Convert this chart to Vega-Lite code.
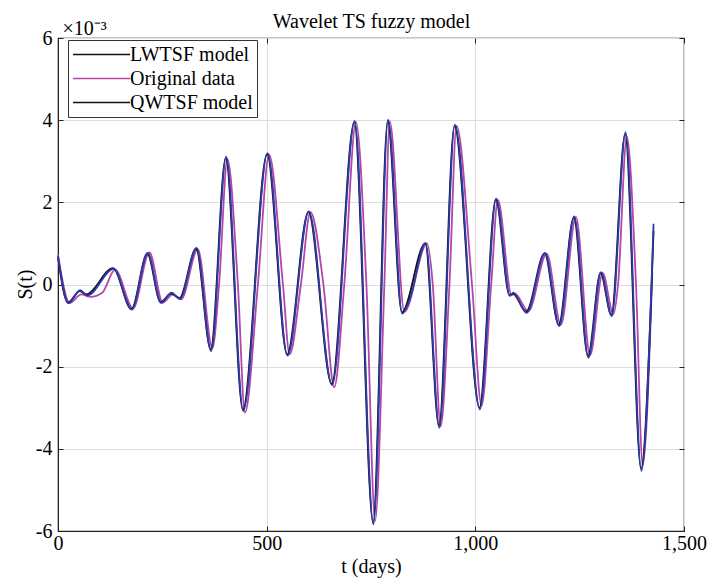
{
  "$schema": "https://vega.github.io/schema/vega-lite/v6.json",
  "width": 626,
  "height": 493,
  "autosize": {"type": "none"},
  "padding": {"left": 58, "top": 38, "right": 25, "bottom": 50},
  "background": "white",
  "data": {"values": [
    {"t": 0, "s": 0.72, "series": "Original data"},
    {"t": 28, "s": -0.45, "series": "Original data"},
    {"t": 56, "s": -0.24, "series": "Original data"},
    {"t": 78, "s": -0.3, "series": "Original data"},
    {"t": 106, "s": -0.2, "series": "Original data"},
    {"t": 137, "s": 0.36, "series": "Original data"},
    {"t": 180, "s": -0.58, "series": "Original data"},
    {"t": 219, "s": 0.78, "series": "Original data"},
    {"t": 251, "s": -0.44, "series": "Original data"},
    {"t": 275, "s": -0.24, "series": "Original data"},
    {"t": 295, "s": -0.36, "series": "Original data"},
    {"t": 335, "s": 0.86, "series": "Original data"},
    {"t": 370, "s": -1.55, "series": "Original data"},
    {"t": 386, "s": 0, "series": "Original data"},
    {"t": 406, "s": 3.05, "series": "Original data"},
    {"t": 431, "s": 0, "series": "Original data"},
    {"t": 448, "s": -3.12, "series": "Original data"},
    {"t": 479, "s": 0, "series": "Original data"},
    {"t": 506, "s": 3.16, "series": "Original data"},
    {"t": 539, "s": 0, "series": "Original data"},
    {"t": 555, "s": -1.7, "series": "Original data"},
    {"t": 582, "s": 0, "series": "Original data"},
    {"t": 605, "s": 1.76, "series": "Original data"},
    {"t": 636, "s": 0, "series": "Original data"},
    {"t": 662, "s": -2.5, "series": "Original data"},
    {"t": 686, "s": 0, "series": "Original data"},
    {"t": 714, "s": 3.95, "series": "Original data"},
    {"t": 739, "s": 0, "series": "Original data"},
    {"t": 760, "s": -5.75, "series": "Original data"},
    {"t": 782, "s": 0, "series": "Original data"},
    {"t": 795, "s": 3.97, "series": "Original data"},
    {"t": 830, "s": -0.66, "series": "Original data"},
    {"t": 884, "s": 1.0, "series": "Original data"},
    {"t": 898, "s": 0, "series": "Original data"},
    {"t": 917, "s": -3.45, "series": "Original data"},
    {"t": 938, "s": 0, "series": "Original data"},
    {"t": 955, "s": 3.86, "series": "Original data"},
    {"t": 992, "s": 0, "series": "Original data"},
    {"t": 1015, "s": -2.95, "series": "Original data"},
    {"t": 1038, "s": 0, "series": "Original data"},
    {"t": 1054, "s": 2.06, "series": "Original data"},
    {"t": 1087, "s": -0.26, "series": "Original data"},
    {"t": 1095, "s": -0.22, "series": "Original data"},
    {"t": 1127, "s": -0.65, "series": "Original data"},
    {"t": 1171, "s": 0.75, "series": "Original data"},
    {"t": 1205, "s": -0.98, "series": "Original data"},
    {"t": 1241, "s": 1.64, "series": "Original data"},
    {"t": 1275, "s": -1.72, "series": "Original data"},
    {"t": 1305, "s": 0.28, "series": "Original data"},
    {"t": 1331, "s": -0.72, "series": "Original data"},
    {"t": 1342, "s": 0, "series": "Original data"},
    {"t": 1363, "s": 3.6, "series": "Original data"},
    {"t": 1385, "s": 0, "series": "Original data"},
    {"t": 1401, "s": -4.4, "series": "Original data"},
    {"t": 1424, "s": 0.3, "series": "Original data"},

    {"t": 0, "s": 0.66, "series": "LWTSF model"},
    {"t": 24, "s": -0.44, "series": "LWTSF model"},
    {"t": 52, "s": -0.16, "series": "LWTSF model"},
    {"t": 68, "s": -0.24, "series": "LWTSF model"},
    {"t": 132, "s": 0.4, "series": "LWTSF model"},
    {"t": 176, "s": -0.6, "series": "LWTSF model"},
    {"t": 214, "s": 0.75, "series": "LWTSF model"},
    {"t": 246, "s": -0.43, "series": "LWTSF model"},
    {"t": 271, "s": -0.22, "series": "LWTSF model"},
    {"t": 291, "s": -0.33, "series": "LWTSF model"},
    {"t": 331, "s": 0.87, "series": "LWTSF model"},
    {"t": 366, "s": -1.58, "series": "LWTSF model"},
    {"t": 402, "s": 3.08, "series": "LWTSF model"},
    {"t": 443, "s": -3.05, "series": "LWTSF model"},
    {"t": 501, "s": 3.17, "series": "LWTSF model"},
    {"t": 549, "s": -1.7, "series": "LWTSF model"},
    {"t": 600, "s": 1.76, "series": "LWTSF model"},
    {"t": 656, "s": -2.42, "series": "LWTSF model"},
    {"t": 710, "s": 3.95, "series": "LWTSF model"},
    {"t": 755, "s": -5.8, "series": "LWTSF model"},
    {"t": 790, "s": 3.98, "series": "LWTSF model"},
    {"t": 824, "s": -0.68, "series": "LWTSF model"},
    {"t": 880, "s": 1.0, "series": "LWTSF model"},
    {"t": 913, "s": -3.45, "series": "LWTSF model"},
    {"t": 950, "s": 3.86, "series": "LWTSF model"},
    {"t": 1010, "s": -3.0, "series": "LWTSF model"},
    {"t": 1049, "s": 2.07, "series": "LWTSF model"},
    {"t": 1082, "s": -0.26, "series": "LWTSF model"},
    {"t": 1090, "s": -0.22, "series": "LWTSF model"},
    {"t": 1122, "s": -0.66, "series": "LWTSF model"},
    {"t": 1166, "s": 0.76, "series": "LWTSF model"},
    {"t": 1200, "s": -0.98, "series": "LWTSF model"},
    {"t": 1236, "s": 1.63, "series": "LWTSF model"},
    {"t": 1270, "s": -1.74, "series": "LWTSF model"},
    {"t": 1300, "s": 0.28, "series": "LWTSF model"},
    {"t": 1326, "s": -0.74, "series": "LWTSF model"},
    {"t": 1359, "s": 3.66, "series": "LWTSF model"},
    {"t": 1397, "s": -4.48, "series": "LWTSF model"},
    {"t": 1427, "s": 1.3, "series": "LWTSF model"},

    {"t": 0, "s": 0.69, "series": "QWTSF model"},
    {"t": 25, "s": -0.46, "series": "QWTSF model"},
    {"t": 53, "s": -0.14, "series": "QWTSF model"},
    {"t": 70, "s": -0.27, "series": "QWTSF model"},
    {"t": 133, "s": 0.38, "series": "QWTSF model"},
    {"t": 177, "s": -0.61, "series": "QWTSF model"},
    {"t": 215, "s": 0.77, "series": "QWTSF model"},
    {"t": 247, "s": -0.45, "series": "QWTSF model"},
    {"t": 272, "s": -0.2, "series": "QWTSF model"},
    {"t": 292, "s": -0.35, "series": "QWTSF model"},
    {"t": 332, "s": 0.89, "series": "QWTSF model"},
    {"t": 367, "s": -1.62, "series": "QWTSF model"},
    {"t": 403, "s": 3.11, "series": "QWTSF model"},
    {"t": 444, "s": -3.08, "series": "QWTSF model"},
    {"t": 502, "s": 3.2, "series": "QWTSF model"},
    {"t": 550, "s": -1.73, "series": "QWTSF model"},
    {"t": 601, "s": 1.78, "series": "QWTSF model"},
    {"t": 657, "s": -2.45, "series": "QWTSF model"},
    {"t": 711, "s": 3.98, "series": "QWTSF model"},
    {"t": 756, "s": -5.84, "series": "QWTSF model"},
    {"t": 791, "s": 4.01, "series": "QWTSF model"},
    {"t": 825, "s": -0.71, "series": "QWTSF model"},
    {"t": 843, "s": -0.36, "series": "QWTSF model"},
    {"t": 881, "s": 1.01, "series": "QWTSF model"},
    {"t": 914, "s": -3.49, "series": "QWTSF model"},
    {"t": 951, "s": 3.89, "series": "QWTSF model"},
    {"t": 1011, "s": -3.04, "series": "QWTSF model"},
    {"t": 1050, "s": 2.09, "series": "QWTSF model"},
    {"t": 1083, "s": -0.28, "series": "QWTSF model"},
    {"t": 1091, "s": -0.2, "series": "QWTSF model"},
    {"t": 1123, "s": -0.69, "series": "QWTSF model"},
    {"t": 1167, "s": 0.77, "series": "QWTSF model"},
    {"t": 1201, "s": -1.01, "series": "QWTSF model"},
    {"t": 1237, "s": 1.66, "series": "QWTSF model"},
    {"t": 1271, "s": -1.78, "series": "QWTSF model"},
    {"t": 1301, "s": 0.3, "series": "QWTSF model"},
    {"t": 1327, "s": -0.77, "series": "QWTSF model"},
    {"t": 1360, "s": 3.71, "series": "QWTSF model"},
    {"t": 1398, "s": -4.54, "series": "QWTSF model"},
    {"t": 1427, "s": 1.48, "series": "QWTSF model"}
  ]},
  "encoding": {
    "color": {"field": "series", "type": "nominal",
      "scale": {"domain": ["LWTSF model", "Original data", "QWTSF model"], "range": ["#111111", "#b446aa", "#111111"]},
      "legend": {"orient": "none", "legendX": 10, "legendY": 2, "title": null, "symbolType": "M-1,0H5", "symbolSize": 361, "symbolStrokeWidth": 1.5, "labelFont": "Liberation Serif", "labelFontSize": 20, "labelColor": "black", "labelOffset": 37, "strokeColor": "#333333", "fillColor": "white", "padding": 4, "rowPadding": 3}}
  },
  "layer": [
    {"transform": [{"filter": "datum.series == 'Original data'"}], "mark": {"type": "line", "interpolate": "monotone", "strokeWidth": 1.8},
     "encoding": {
      "x": {"field": "t", "type": "quantitative",
        "scale": {"domain": [0, 1500], "nice": false, "zero": false},
        "axis": {"title": "t (days)", "values": [0, 500, 1000, 1500], "format": ",d", "labelFlush": false, "labelOverlap": false, "grid": true, "ticks": true, "tickSize": -5, "labelPadding": 7, "titlePadding": 3}},
      "y": {"field": "s", "type": "quantitative",
        "scale": {"domain": [-6, 6], "nice": false, "zero": false},
        "axis": {"title": "S(t)", "values": [-6, -4, -2, 0, 2, 4, 6], "labelExpr": "'' + datum.value", "labelFlush": false, "labelOverlap": false, "grid": true, "ticks": true, "tickSize": -5, "labelPadding": 11, "titleX": -27, "titleY": 246, "titleBaseline": "alphabetic"}}}},
    {"transform": [{"filter": "datum.series == 'LWTSF model'"}], "mark": {"type": "line", "interpolate": "monotone", "strokeWidth": 1.8},
     "encoding": {
      "x": {"field": "t", "type": "quantitative",
        "axis": {"orient": "top", "title": "Wavelet TS fuzzy model", "values": [0, 500, 1000, 1500], "labels": false, "ticks": true, "tickSize": -5, "domain": false, "grid": false, "titleAlign": "center", "titleBaseline": "alphabetic", "titleFont": "Liberation Serif", "titleFontSize": 20, "titleFontWeight": "normal", "titlePadding": 0, "titleX": 313, "titleY": -11}},
      "y": {"field": "s", "type": "quantitative", "axis": null}}},
    {"transform": [{"filter": "datum.series == 'QWTSF model'"}], "mark": {"type": "line", "interpolate": "monotone", "strokeWidth": 1.8},
     "encoding": {
      "x": {"field": "t", "type": "quantitative", "axis": null},
      "y": {"field": "s", "type": "quantitative",
        "axis": {"orient": "right", "values": [-6, -4, -2, 0, 2, 4, 6], "labels": false, "ticks": true, "tickSize": -5, "domain": false, "grid": false, "title": "×10⁻³", "titleAngle": 0, "titleAlign": "left", "titleBaseline": "alphabetic", "titleFont": "Liberation Serif", "titleFontSize": 20, "titleFontWeight": "normal", "titleX": -622, "titleY": -4}},
      "color": {"value": "#2b3ca8"}, "detail": {"field": "series"}}}
  ],
  "resolve": {"axis": {"x": "independent", "y": "independent"}},
  "config": {
    "view": {"stroke": "#222222", "strokeWidth": 1.2},
    "axis": {"labelFont": "Liberation Serif", "labelFontSize": 20, "labelColor": "black", "titleFont": "Liberation Serif", "titleFontSize": 20, "titleFontWeight": "normal", "titleColor": "black", "domainColor": "#222222", "tickColor": "#222222", "gridColor": "#dddddd", "gridWidth": 1}
  }
}
